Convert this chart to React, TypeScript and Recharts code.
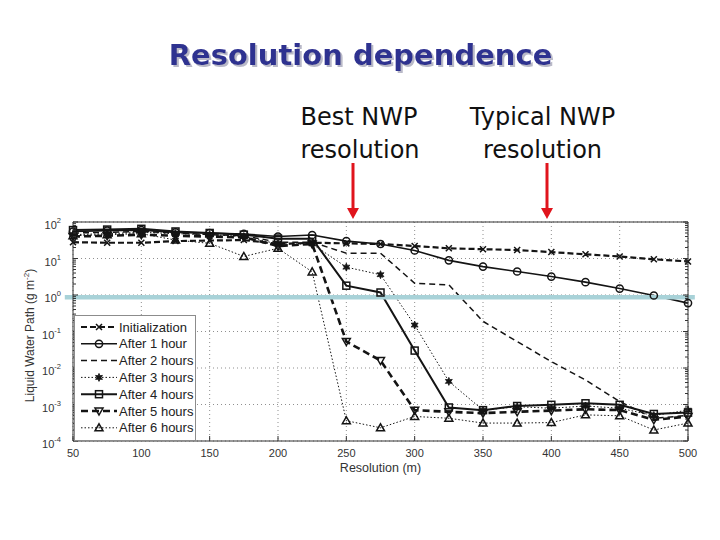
import React from "react";
import {
  LineChart,
  Line,
  XAxis,
  YAxis,
  CartesianGrid,
  Legend,
  ReferenceLine,
} from "recharts";

const resolution = [
  50, 75, 100, 125, 150, 175, 200, 225, 250, 275, 300, 325, 350, 375, 400, 425,
  450, 475, 500,
];
const initialization = [
  28, 27, 27, 30, 31, 32, 25, 27, 26, 25, 22, 19, 18, 17, 15, 13, 11.4, 9.5, 8.3,
];
const after1h = [
  55, 58, 60, 52, 50, 47, 40, 44, 30, 25, 16.6, 8.9, 6.0, 4.4, 3.2, 2.25, 1.5,
  0.97, 0.6,
];
const after2h = [
  50, 52, 55, 50, 45, 42, 28, 28, 14, 14, 2.1, 1.9, 0.19, 0.053, 0.015, 0.0047,
  0.0012, 0.00042, 0.0005,
];
const after3h = [
  45, 48, 52, 48, 45, 40, 25, 25, 5.8, 3.6, 0.15, 0.0043, 0.0007, 0.00087,
  0.00079, 0.00091, 0.00079, 0.0005, 0.0007,
];
const after4h = [
  60, 62, 65, 55, 50, 45, 35, 35, 1.8, 1.17, 0.03, 0.00083, 0.0007, 0.00091,
  0.00098, 0.00108, 0.00098, 0.00055, 0.0006,
];
const after5h = [
  40, 42, 45, 42, 40, 38, 22, 25, 0.053, 0.016, 0.0007, 0.00063, 0.00058,
  0.00063, 0.00068, 0.00074, 0.0007, 0.00038, 0.00047,
];
const after6h = [
  42, 45, 48, 32, 26, 11.4, 19, 4.3, 0.00036, 0.00023, 0.00047, 0.00042,
  0.00031, 0.00031, 0.00032, 0.00052, 0.00049, 0.0002, 0.00031,
];

const xTicks = [50, 100, 150, 200, 250, 300, 350, 400, 450, 500];
const decadeTicks = [0.0001, 0.001, 0.01, 0.1, 1, 10, 100];
const minorTicks = decadeTicks
  .slice(0, -1)
  .flatMap((d) => [2, 3, 4, 5, 6, 7, 8, 9].map((m) => +(d * m).toPrecision(3)));
const yTicks = [...decadeTicks, ...minorTicks].sort((a, b) => a - b);
const thresholdLwp = 0.865;

const data = resolution.map((res, i) => ({
  res,
  init: initialization[i],
  h1: after1h[i],
  h2: after2h[i],
  h3: after3h[i],
  h4: after4h[i],
  h5: after5h[i],
  h6: after6h[i],
}));

const INK = "#141414";

const series = [
  { key: "init", name: "Initialization", shape: "x", width: 2.2, dash: "6 3" },
  { key: "h1", name: "After 1 hour", shape: "circle", width: 1.6, dash: "" },
  { key: "h2", name: "After 2 hours", shape: "none", width: 1.5, dash: "6 4" },
  { key: "h3", name: "After 3 hours", shape: "star", width: 1, dash: "1.5 2" },
  { key: "h4", name: "After 4 hours", shape: "square", width: 2, dash: "" },
  { key: "h5", name: "After 5 hours", shape: "down", width: 2.6, dash: "7 4" },
  { key: "h6", name: "After 6 hours", shape: "up", width: 1, dash: "1.5 2" },
];

function Marker({ shape, cx, cy }: any) {
  if (cx == null || cy == null) return null;
  const s = { fill: "none", stroke: INK, strokeWidth: 1.5 };
  switch (shape) {
    case "x":
      return (
        <path
          d={`M${cx - 3},${cy - 3}L${cx + 3},${cy + 3}M${cx - 3},${cy + 3}L${cx + 3},${cy - 3}`}
          {...s}
        />
      );
    case "circle":
      return <circle cx={cx} cy={cy} r={3.6} {...s} />;
    case "square":
      return <rect x={cx - 3.5} y={cy - 3.5} width={7} height={7} {...s} />;
    case "down":
      return (
        <path d={`M${cx - 4},${cy - 3}L${cx + 4},${cy - 3}L${cx},${cy + 4}Z`} {...s} />
      );
    case "up":
      return (
        <path d={`M${cx - 4},${cy + 3}L${cx + 4},${cy + 3}L${cx},${cy - 4}Z`} {...s} />
      );
    case "star": {
      const pts = [];
      for (let k = 0; k < 12; k++) {
        const r = k % 2 === 0 ? 4 : 2;
        const a = (Math.PI / 6) * k - Math.PI / 2;
        pts.push(`${cx + r * Math.cos(a)},${cy + r * Math.sin(a)}`);
      }
      return <polygon points={pts.join(" ")} fill={INK} stroke={INK} strokeWidth={0.8} />;
    }
    default:
      return null;
  }
}

const dotFor = (shape: string) =>
  shape === "none"
    ? false
    : (p: any) => <Marker key={`${shape}-${p.index}`} shape={shape} cx={p.cx} cy={p.cy} />;

const isDecade = (v: number) =>
  Math.abs(Math.log10(v) - Math.round(Math.log10(v))) < 1e-6;

function LeftTick({ x, y, payload }: any) {
  const v = payload.value;
  const major = isDecade(v);
  return (
    <g>
      <line x1={x} y1={y} x2={x + (major ? 5 : 3)} y2={y} stroke="#333" />
      {major && (
        <text x={x - 12} y={y + 7} textAnchor="end" fontSize={11} fill="#333">
          10
          <tspan dy={-6} fontSize={7.5}>
            {Math.round(Math.log10(v))}
          </tspan>
        </text>
      )}
    </g>
  );
}

function RightTick({ x, y, payload }: any) {
  const major = isDecade(payload.value);
  return <line x1={x} y1={y} x2={x - (major ? 5 : 3)} y2={y} stroke="#333" />;
}

function BottomTick({ x, y, payload }: any) {
  return (
    <g>
      <line x1={x} y1={y} x2={x} y2={y - 5} stroke="#333" />
      <text x={x} y={y + 16} textAnchor="middle" fontSize={11} fill="#333">
        {payload.value}
      </text>
    </g>
  );
}

function TopTick({ x, y }: any) {
  return <line x1={x} y1={y} x2={x} y2={y + 5} stroke="#333" />;
}

function LegendBox() {
  return (
    <div
      style={{
        width: 122,
        height: 126,
        boxSizing: "border-box",
        border: "1px solid #8c8c8c",
        background: "#fff",
      }}
    >
      <svg width={120} height={124}>
        {series.map((s, i) => {
          const y = 11 + i * 16.8;
          return (
            <g key={s.key}>
              <line
                x1={6}
                x2={42}
                y1={y}
                y2={y}
                stroke={INK}
                strokeWidth={s.width}
                strokeDasharray={s.dash || undefined}
              />
              <Marker shape={s.shape} cx={24} cy={y} />
              <text x={44} y={y + 4.5} fontSize={13} fill="#222">
                {s.name}
              </text>
            </g>
          );
        })}
      </svg>
    </div>
  );
}

function Arrow({ x }: { x: number }) {
  return (
    <g>
      <line x1={x} x2={x} y1={163} y2={210} stroke="#e0141c" strokeWidth={3} />
      <polygon points={`${x - 6},${208} ${x + 6},${208} ${x},${219}`} fill="#e0141c" />
    </g>
  );
}

export default function App() {
  return (
    <div
      style={{
        position: "absolute",
        left: 0,
        top: 0,
        width: 720,
        height: 540,
        background: "#fff",
        fontFamily: "'Liberation Sans', Arial, sans-serif",
      }}
    >
      <LineChart
        width={720}
        height={540}
        data={data}
        margin={{ top: 221, right: 31, bottom: 69, left: 23 }}
      >
        <CartesianGrid
          stroke="#8f8f8f"
          strokeDasharray="1 3"
          horizontalValues={decadeTicks}
          verticalValues={xTicks}
        />
        <XAxis
          dataKey="res"
          type="number"
          domain={[50, 500]}
          ticks={xTicks}
          interval={0}
          height={30}
          tickSize={0}
          tickMargin={0}
          tick={<BottomTick />}
          tickLine={false}
          axisLine={{ stroke: "#333" }}
          label={{
            content: ({ viewBox }: any) => (
              <text
                x={viewBox.x + viewBox.width / 2}
                y={viewBox.y + 31}
                textAnchor="middle"
                fontSize={12.5}
                fill="#333"
              >
                Resolution (m)
              </text>
            ),
          }}
        />
        <XAxis
          xAxisId="top"
          orientation="top"
          type="number"
          domain={[50, 500]}
          ticks={xTicks}
          interval={0}
          height={1}
          tickSize={0}
          tickMargin={0}
          tick={<TopTick />}
          tickLine={false}
          axisLine={{ stroke: "#333" }}
        />
        <YAxis
          scale="log"
          type="number"
          domain={[0.0001, 100]}
          allowDataOverflow
          ticks={yTicks}
          interval={0}
          width={50}
          tickSize={0}
          tickMargin={0}
          tick={<LeftTick />}
          tickLine={false}
          axisLine={{ stroke: "#333" }}
          label={{
            content: ({ viewBox }: any) => {
              const cx = viewBox.x + 11;
              const cy = viewBox.y + viewBox.height / 2 + 4;
              return (
                <text
                  x={cx}
                  y={cy}
                  transform={`rotate(-90, ${cx}, ${cy})`}
                  textAnchor="middle"
                  fontSize={12}
                  fill="#333"
                >
                  Liquid Water Path (g m
                  <tspan dy={-5} fontSize={8}>
                    -2
                  </tspan>
                  <tspan dy={5}>)</tspan>
                </text>
              );
            },
          }}
        />
        <YAxis
          yAxisId="right"
          orientation="right"
          scale="log"
          type="number"
          domain={[0.0001, 100]}
          allowDataOverflow
          ticks={yTicks}
          interval={0}
          width={1}
          tickSize={0}
          tickMargin={0}
          tick={<RightTick />}
          tickLine={false}
          axisLine={{ stroke: "#333" }}
        />
        {series.map((s) => (
          <Line
            key={s.key}
            dataKey={s.key}
            name={s.name}
            type="linear"
            stroke={INK}
            strokeWidth={s.width}
            strokeDasharray={s.dash || undefined}
            dot={dotFor(s.shape)}
            activeDot={false}
            isAnimationActive={false}
          />
        ))}
        <ReferenceLine
          segment={[
            { x: 44, y: thresholdLwp },
            { x: 505, y: thresholdLwp },
          ]}
          ifOverflow="visible"
          stroke="#a8d2d8"
          strokeWidth={4.5}
        />
        <Legend
          layout="vertical"
          align="center"
          verticalAlign="middle"
          wrapperStyle={{ left: 74, top: 315, width: 122, height: 126 }}
          content={() => <LegendBox />}
        />
      </LineChart>
      <svg
        width={720}
        height={540}
        style={{ position: "absolute", left: 0, top: 0, pointerEvents: "none" }}
      >
        <defs>
          <filter id="titleShadow" x="-5%" y="-20%" width="110%" height="150%">
            <feDropShadow dx={2} dy={2} stdDeviation={0.4} floodColor="#b9b9c8" floodOpacity={1} />
          </filter>
        </defs>
        <text
          x={360.5}
          y={65}
          fill="#2e3190"
          fontFamily="'DejaVu Sans', Verdana, sans-serif"
          fontWeight="bold"
          fontSize={29}
          textAnchor="middle"
          filter="url(#titleShadow)"
        >
          Resolution dependence
        </text>
        <g fontFamily="'DejaVu Sans', Verdana, sans-serif" fontSize={24} fill="#111" textAnchor="middle">
          <text x={359} y={125}>Best NWP</text>
          <text x={360} y={158}>resolution</text>
          <text x={542.5} y={125}>Typical NWP</text>
          <text x={542.5} y={158}>resolution</text>
        </g>
        <Arrow x={353} />
        <Arrow x={547} />
      </svg>
    </div>
  );
}
